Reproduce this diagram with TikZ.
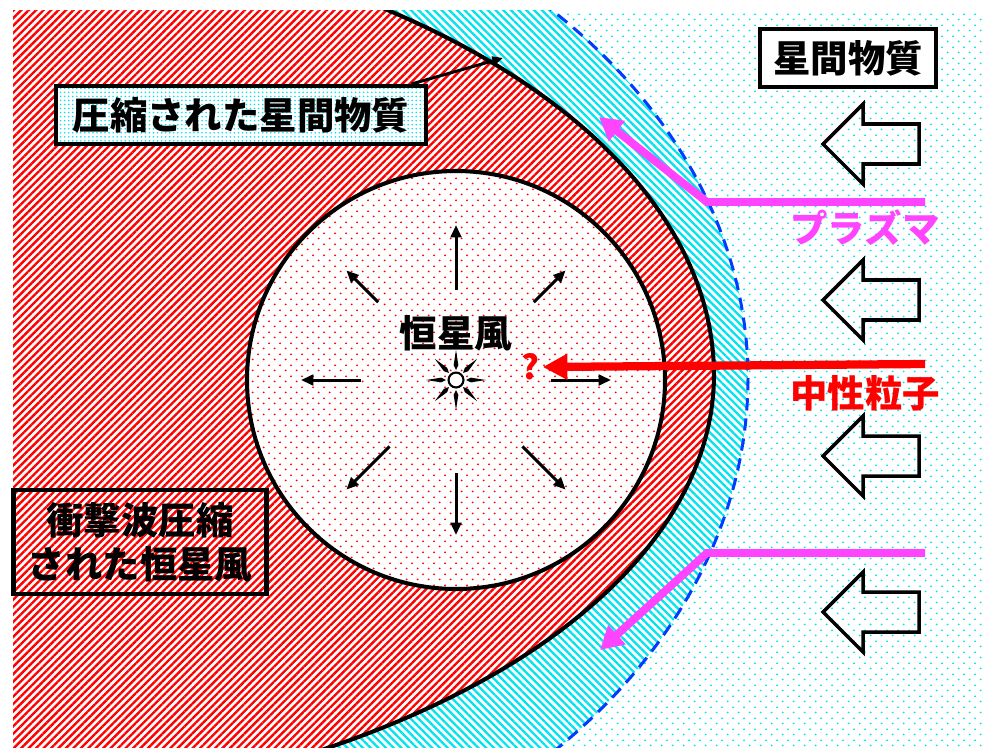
\documentclass[tikz,border=0pt]{standalone}
\usepackage{fontspec}
\setmainfont{Noto Sans CJK JP}
\usetikzlibrary{calc,patterns.meta,arrows.meta}
\definecolor{plasmapink}{RGB}{255,68,255}
\definecolor{ismcyan}{RGB}{0,228,238}
\definecolor{shockblue}{RGB}{0,60,255}
\tikzdeclarepattern{
	name=stagdots, type=uncolored,
	bottom left={(0pt,0pt)}, top right={(6.2pt,6.3pt)}, tile size={(6.2pt,6.3pt)},
	code={\pgfpathcircle{\pgfpoint{1.55pt}{1.575pt}}{0.6pt}\pgfpathcircle{\pgfpoint{4.65pt}{4.725pt}}{0.6pt}\pgfusepath{fill}}}
\def\bowshock{plot[domain=-47:0,samples=50] ({48+700*cos(\x)},{378+530*sin(\x)}) -- plot[domain=0:47,samples=50] ({48+700*cos(\x)},{378+540*sin(\x)})}
\def\astropause{plot[domain=-56:0,samples=50] ({-120+834*cos(\x)},{375+460*sin(\x)}) -- plot[domain=0:62,samples=50] ({-120+834*cos(\x)},{375+442*sin(\x)})}
\def\inflow(#1,#2){\draw[line width=2pt, line join=miter] (#1,#2) -- ++(40,-40) -- ++(0,20) -- ++(56,0) -- ++(0,40) -- ++(-56,0) -- ++(0,20) -- cycle;}

\begin{document}
\begin{tikzpicture}[x=0.02cm, y=-0.02cm,
		labelbox/.style={draw, line width=2.3pt, inner sep=0pt, font=\fontsize{21.3}{25}\selectfont\bfseries},
		bigtext/.style={font=\fontsize{21.3}{25}\selectfont\bfseries},
		windarrow/.style={line width=1.7pt, -{Triangle[length=7pt,width=6pt]}},
		plasmaflow/.style={plasmapink, line width=4.5pt, -{Triangle[length=13pt,width=14pt]}}]
		%%%%% START %%%%%
		\useasboundingbox (0,0) rectangle (982,747);
		
		\begin{scope}
			\clip (13,10) rectangle (982,747);
			\fill[pattern=stagdots, pattern color=ismcyan] (13,10) rectangle (982,747);
			
			\path[preaction={fill=white}, pattern={Lines[angle=-45,distance=3.1pt,line width=1.3pt]}, pattern color=ismcyan] \bowshock -- (0,770) -- (0,-20) -- cycle;
			\draw[shockblue, line width=1.7pt, dash pattern=on 7pt off 4.5pt] \bowshock;
			
			\path[preaction={fill=white}, pattern={Lines[angle=45,distance=3pt,line width=1.35pt]}, pattern color=red] \astropause -- (0,770) -- (0,-20) -- cycle;
			\draw[line width=2.3pt] \astropause;
		\end{scope}
		
		\fill[white] (456,380) circle (209);
		\fill[pattern=stagdots, pattern color=red] (456,380) circle (209);
		\draw[line width=2.3pt] (456,380) circle (209);
		
		%% star
		\coordinate (sun) at (456,380);
		\foreach \a in {0,45,...,315}
			\fill ($(sun)+(\a:10)$) -- ($(sun)+(\a+9:15)$) -- ($(sun)+(\a:30)$) -- ($(sun)+(\a-9:15)$) -- cycle;
		\node[circle, draw, fill=white, line width=1.2pt, minimum size=8.5pt, inner sep=0pt] (star) at (sun) {};
		
		\foreach \a/\r in {0/95, 45/94, 90/93, 135/94, 180/95, 225/110, 270/90, 315/110}
			\draw[windarrow] ($(star)+(\a:\r)$) -- ($(star)+(\a:155)$);
		
		\node[bigtext] (windlabel) at (456,333) {恒星風};
		\node[text=red, font=\fontsize{19}{22}\selectfont\bfseries, inner sep=2pt] (query) at (530,367) {?};
		
		%% neutral atoms
		\coordinate (nstart) at (925,364);
		\draw[red, line width=4.7pt, -{Triangle[length=14pt,width=14pt]}] (nstart) -- (query.east);
		\node[bigtext, text=red] (neutral) at (865,393) {中性粒子};
		
		%% plasma
		\coordinate (ptop1) at (925,202);
		\coordinate (ptop2) at (707,202);
		\coordinate (ptop3) at (599,117);
		\coordinate (pbot1) at (925,553);
		\coordinate (pbot2) at (707,553);
		\coordinate (pbot3) at (600,650);
		\draw[plasmaflow] (ptop1) -- (ptop2) -- (ptop3);
		\draw[plasmaflow] (pbot1) -- (pbot2) -- (pbot3);
		\node[bigtext, text=plasmapink] (plasma) at (865,228) {プラズマ};
		
		%% inflow
		\foreach \y in {144,300,456,612}
			\inflow(823,\y);
		
		%% labels
		\node[labelbox, fill=white, minimum width=100pt, minimum height=33pt] (ismbox) at (848,58) {星間物質};
		\node[labelbox, preaction={fill=white}, pattern={Dots[distance=2.3pt,radius=0.5pt]}, pattern color=ismcyan, minimum width=211pt, minimum height=33pt] (cismbox) at (241,115) {圧縮された星間物質};
		\node[labelbox, align=center, minimum width=144pt, minimum height=59pt] (cwindbox) at (140,542) {衝撃波圧縮\\された恒星風};
		
		\coordinate (apex) at (503,58);
		\draw[line width=1.7pt, -{Triangle[length=6pt,width=5pt]}] ($(cismbox.north east)+(-17,0)$) -- (apex);
		%%%%% END %%%%%
	\end{tikzpicture}
\end{document}
